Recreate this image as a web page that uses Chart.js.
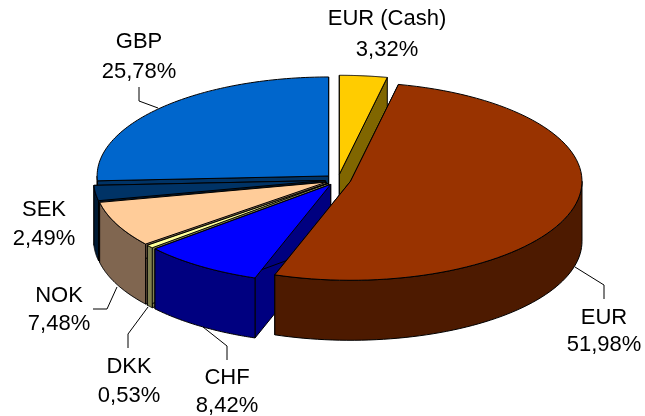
<!DOCTYPE html>
<html>
<head>
<meta charset="utf-8">
<style>
  html, body { margin: 0; padding: 0; background: #fff; }
  canvas { display: block; }
</style>
<script src="https://cdn.jsdelivr.net/npm/chart.js@4"></script>
</head>
<body>
<canvas id="currencyChart" width="645" height="416"></canvas>
<script>
const categories = ['EUR (Cash)', 'EUR', 'CHF', 'DKK', 'NOK', 'SEK', 'GBP'];
const shares = [3.32, 51.98, 8.42, 0.53, 7.48, 2.49, 25.78];
const topColors = ['#FFCC00', '#993300', '#0000FF', '#FFFF99', '#FFCC99', '#003366', '#0066CC'];
const wallColors = ['#806600', '#4D1A00', '#000080', '#808050', '#806650', '#001A33', '#003366'];

// back to front, so the walls overlap the way they do in the picture
const wallOrder = [6, 5, 0, 4, 3, 2, 1];

// flat pie -> tilted pie
const pieRadius = 150;
const centerX = 338;
const centerY = 179.8;
const scaleX = 231.5 / pieRadius;
const scaleY = 99 / pieRadius;
const depth = 60;
const explode = 8.4;

// label text spots and the leader line going to the slice
const labelSpots = [
    { x: 387, y1: 19, y2: 50, line: [] },
    { x: 604, y1: 318, y2: 345, line: [[575, 267], [604, 285], [604, 299]] },
    { x: 227, y1: 378, y2: 406, line: [[203, 327], [227, 346], [227, 360]] },
    { x: 129, y1: 367, y2: 396, line: [[148, 307], [128, 334], [128, 348]] },
    { x: 59, y1: 296, y2: 324, line: [[117, 287], [107, 309], [93, 309]] },
    { x: 44, y1: 210, y2: 239, line: [] },
    { x: 139, y1: 42, y2: 72, line: [[139, 87], [139, 101], [158, 108]] }
];

function midAngle(arc) {
    return (arc.startAngle + arc.endAngle) / 2;
}

function tiltPoint(arc, angle, drop) {
    const mid = midAngle(arc);
    return [
        centerX + scaleX * (pieRadius * Math.cos(angle) + explode * Math.cos(mid)),
        centerY + scaleY * (pieRadius * Math.sin(angle) + explode * Math.sin(mid)) + drop
    ];
}

function apexPoint(arc, drop) {
    const mid = midAngle(arc);
    return [
        centerX + scaleX * explode * Math.cos(mid),
        centerY + scaleY * explode * Math.sin(mid) + drop
    ];
}

function fillPolygon(ctx, points, fill) {
    ctx.beginPath();
    points.forEach((p, i) => (i ? ctx.lineTo(p[0], p[1]) : ctx.moveTo(p[0], p[1])));
    ctx.closePath();
    ctx.fillStyle = fill;
    ctx.fill();
    ctx.stroke();
}

function drawWalls(ctx, arc, color) {
    const { startAngle, endAngle } = arc;
    // the flat side along each cut
    [startAngle, endAngle].forEach(angle => {
        fillPolygon(ctx, [
            apexPoint(arc, 0), tiltPoint(arc, angle, 0),
            tiltPoint(arc, angle, depth), apexPoint(arc, depth)
        ], color);
    });
    // the round side, only the part facing the viewer
    const from = Math.max(startAngle, 0);
    const to = Math.min(endAngle, Math.PI);
    if (to > from) {
        const top = [];
        const bottom = [];
        for (let i = 0; i <= 60; i++) {
            const angle = from + (to - from) * i / 60;
            top.push(tiltPoint(arc, angle, 0));
            bottom.unshift(tiltPoint(arc, angle, depth));
        }
        fillPolygon(ctx, top.concat(bottom), color);
    }
}

const tiltPlugin = {
    id: 'tilt',
    beforeDatasetDraw() {
        // the arcs get drawn below, each one pulled out of the pie
        return false;
    },
    afterDatasetsDraw(chart) {
        const ctx = chart.ctx;
        const arcs = chart.getDatasetMeta(0).data;

        ctx.save();
        ctx.strokeStyle = '#000';
        ctx.lineWidth = 1;
        ctx.lineJoin = 'round';
        wallOrder.forEach(i => drawWalls(ctx, arcs[i], wallColors[i]));
        ctx.restore();

        arcs.forEach(arc => {
            ctx.save();
            ctx.translate(centerX, centerY);
            ctx.scale(scaleX, scaleY);
            ctx.translate(-arc.x, -arc.y);
            ctx.translate(explode * Math.cos(midAngle(arc)), explode * Math.sin(midAngle(arc)));
            arc.draw(ctx);
            ctx.restore();
        });

        // outline of the top faces, in screen pixels so the line stays even
        ctx.save();
        ctx.strokeStyle = '#000';
        ctx.lineWidth = 1;
        ctx.lineJoin = 'round';
        arcs.forEach(arc => {
            ctx.beginPath();
            const apex = apexPoint(arc, 0);
            ctx.moveTo(apex[0], apex[1]);
            for (let i = 0; i <= 80; i++) {
                const p = tiltPoint(arc, arc.startAngle + (arc.endAngle - arc.startAngle) * i / 80, 0);
                ctx.lineTo(p[0], p[1]);
            }
            ctx.closePath();
            ctx.stroke();
        });

        // labels
        ctx.fillStyle = '#000';
        ctx.font = '22px "Liberation Sans"';
        ctx.textAlign = 'center';
        ctx.textBaseline = 'middle';
        categories.forEach((name, i) => {
            const spot = labelSpots[i];
            ctx.fillText(name, spot.x, spot.y1);
            ctx.fillText(shares[i].toFixed(2).replace('.', ',') + '%', spot.x, spot.y2);
            if (spot.line.length) {
                ctx.beginPath();
                spot.line.forEach((p, k) => (k ? ctx.lineTo(p[0], p[1]) : ctx.moveTo(p[0], p[1])));
                ctx.stroke();
            }
        });
        ctx.restore();
    }
};

new Chart(document.getElementById('currencyChart'), {
    type: 'pie',
    data: {
        labels: categories,
        datasets: [{
            data: shares,
            backgroundColor: topColors,
            borderWidth: 0,
            radius: pieRadius
        }]
    },
    options: {
        responsive: false,
        animation: false,
        plugins: {
            legend: { display: false },
            tooltip: { enabled: false }
        }
    },
    plugins: [tiltPlugin]
});
</script>
</body>
</html>
